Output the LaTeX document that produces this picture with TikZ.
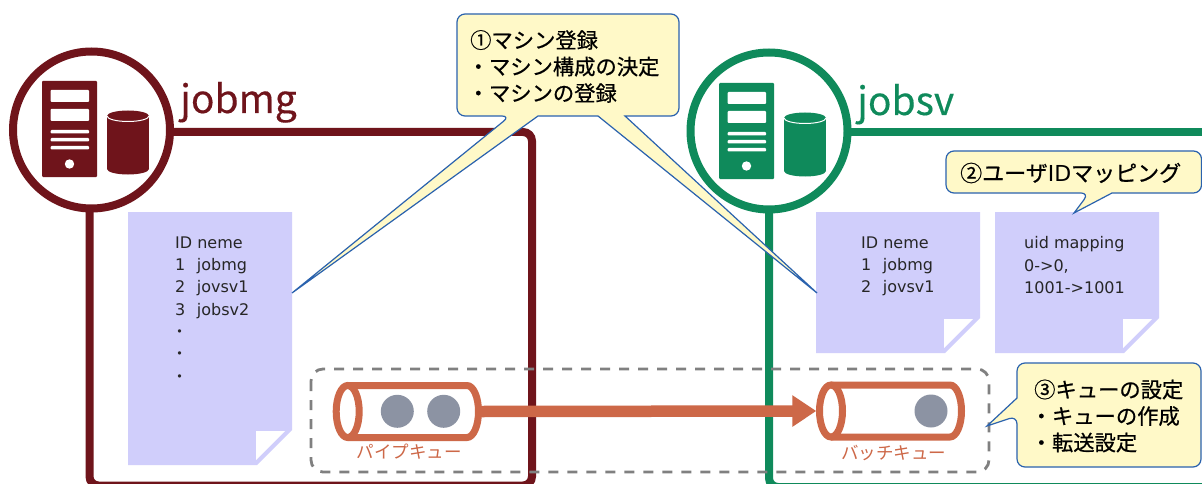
\documentclass[tikz,border=0pt]{standalone}
\usepackage{fontspec}
\setmainfont{Noto Sans CJK JP}
\newfontfamily\notefont{DejaVu Sans}
\newfontfamily\jpfont{Noto Sans CJK JP}
\usetikzlibrary{arrows.meta}
\definecolor{jobmgc}{HTML}{6F141B}
\definecolor{jobsvc}{HTML}{0F8A5B}
\definecolor{notec}{HTML}{D0CEFB}
\definecolor{quec}{HTML}{CD6848}
\definecolor{ballc}{HTML}{8C93A3}
\definecolor{tipc}{HTML}{FFF9C8}
\definecolor{tipline}{HTML}{2A62AE}
\newcommand{\hostmark}[3]{% x offset, y offset, colour
 \begin{scope}[shift={(#1,#2)}]
  \fill[#3,rounded corners=1] (42,81) rectangle (97,177);
  \fill[white,rounded corners=1] (50.5,90) rectangle (89,102);
  \fill[white,rounded corners=1] (50.5,109) rectangle (89,121);
  \foreach \y in {130,138,146}
   \fill[white,rounded corners=1] (50.5,\y) rectangle (89,\y+3.5);
  \fill[white] (69.5,164) circle (4.7);
  \fill[#3] (107,116) rectangle (149,169);
  \fill[#3] (128,116) circle [x radius=21,y radius=5.5];
  \fill[#3] (128,169) circle [x radius=21,y radius=5.5];
  \draw[white,line width=1] (107,116) arc [start angle=180,end angle=360,x radius=21,y radius=-5.5];
 \end{scope}}
\newcommand{\notesheet}[4]{% left, top, right, bottom
 \fill[notec] (#1,#2) -- (#3,#2) -- (#3,#4-35) -- (#3-35,#4) -- (#1,#4) -- cycle;
 \fill[white] (#3-36,#4-34) -- (#3-7,#4-34) -- (#3-36,#4-5) -- cycle;}
\begin{document}
\begin{tikzpicture}[x=1pt,y=-1pt,
  hostline/.style={line width=8,rounded corners=9},
  hostcirc/.style={line width=8,fill=white},
  hosttext/.style={anchor=base west,inner sep=0,font=\fontsize{39}{39}\selectfont\addfontfeature{FakeBold=0.3}},
  notetext/.style={anchor=north west,inner sep=0,align=left,font=\notefont\fontsize{16}{22.3}\selectfont,text=black!85},
  tipbox/.style={fill=tipc,draw=tipline,line width=1.2},
  tiptext/.style={anchor=west,inner sep=0,align=left,font=\fontsize{21.3}{26.5}\selectfont\addfontfeature{FakeBold=0.6}},
  quepipe/.style={draw=quec,line width=7},
  queball/.style={fill=ballc},
  quetext/.style={text=quec,inner sep=0,font=\fontsize{17.5}{18}\selectfont},
  quebox/.style={minimum width=149,minimum height=59,inner sep=0}]
 \useasboundingbox (0,0) rectangle (1202,484);
 \fill[white] (0,0) rectangle (1202,484);
 \def\mgc{91.5,130}
 \def\svc{769,131}
 \def\gap{\hspace{11.5pt}}
 \def\dotline{\hspace*{-3.5pt}{\jpfont ・}}
 % hosts
 \draw[jobmgc,hostline] (89.5,130) -- (89.5,485.5) -- (532,485.5) -- (532,132) -- (91.5,132);
 \draw[jobsvc,hostline] (769,131) -- (769,487) -- (1210,487);
 \draw[jobsvc,line width=8] (769,132) -- (1202,132);
 \draw[jobmgc,hostcirc] (\mgc) circle (78.5);
 \draw[jobsvc,hostcirc] (\svc) circle (78.5);
 \hostmark{0}{0}{jobmgc}
 \hostmark{677}{2}{jobsvc}
 \node[hosttext,text=jobmgc] (mgname) at (180,113) {jobmg};
 \node[hosttext,text=jobsvc] (svname) at (857,115) {jobsv};
 % sheets
 \notesheet{128}{212}{292}{465}
 \notesheet{816}{212}{980}{353}
 \notesheet{995}{212}{1159}{353}
 \node[notetext] (mgids) at (175,236.5) {ID neme\\1\gap jobmg\\2\gap jovsv1\\3\gap jobsv2\\\dotline\\\dotline\\\dotline};
 \node[notetext] (svids) at (861,236.5) {ID neme\\1\gap jobmg\\2\gap jovsv1};
 \node[notetext] (uidmap) at (1024,236.5) {uid mapping\\0->0,\\1001->1001};
 % queues
 \draw[draw=black!50,line width=2.8,rounded corners=12,dash pattern=on 10 off 9] (311,369) rectangle (989,472);
 \node[quebox] (pipeq) at (407.5,411.5) {};
 \node[quebox] (batchq) at (891,411) {};
 \draw[quec,line width=11.5,-{Triangle[length=24,width=30]}] (pipeq.east) -- (batchq.west);
 \draw[quepipe] (348,385.5) -- (467,385.5) arc [start angle=-90,end angle=90,x radius=11.5,y radius=26] -- (348,437.5);
 \draw[quepipe] (347.7,411.5) circle [x radius=11.5,y radius=26];
 \draw[quepipe] (831,385) -- (950,385) arc [start angle=-90,end angle=90,x radius=11.5,y radius=26] -- (831,437);
 \draw[quepipe] (831,411) circle [x radius=11.5,y radius=26];
 \foreach \x/\y in {397.3/411.3,443.7/411.3,931/411}
  \fill[queball] (\x,\y) circle (16.5);
 \node[quetext] (pipename) at (409,452) {パイプキュー};
 \node[quetext] (batchname) at (893.5,453) {バッチキュー};
 % callouts
 \draw[tipbox] (625,116) [rounded corners=8] -- (679,116) -- (679,14) -- (457,14) -- (457,116) -- (510,116) [sharp corners] -- (292,293) -- (538,116) -- (598,116) -- (817,293) -- cycle;
 \draw[tipbox] (1112,193) [rounded corners=8] -- (1201.5,193) -- (1201.5,151) -- (946,151) -- (946,193) -- (1089,193) [sharp corners] -- (1074,213) -- cycle;
 \draw[tipbox] (1017,398) [rounded corners=8] -- (1017,363) -- (1201,363) -- (1201,467) -- (1017,467) -- (1017,416) [sharp corners] -- (987,426) -- cycle;
 \node[tiptext] (tipa) at (470,66.5) {①マシン登録\\\hspace*{-2.5pt}・マシン構成の決定\\\hspace*{-2.5pt}・マシンの登録};
 \node[tiptext] (tipb) at (960,173) {\fontsize{22}{26}\selectfont ②ユーザ{\notefont ID}マッピング};
 \node[tiptext] (tipc) at (1034,416) {③キューの設定\\\hspace*{-3.5pt}・キューの作成\\\hspace*{-3.5pt}・転送設定};
\end{tikzpicture}
\end{document}
